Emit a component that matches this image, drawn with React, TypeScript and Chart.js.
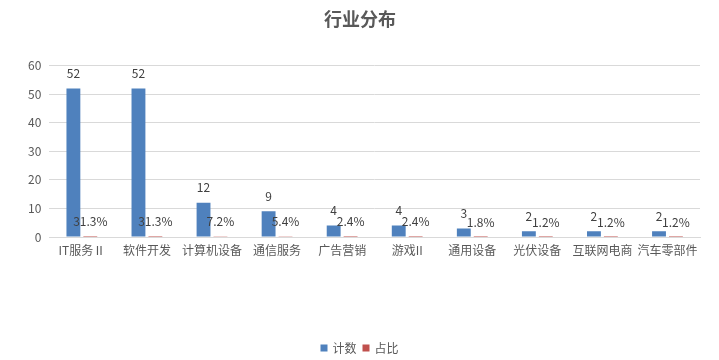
import React, { useEffect, useRef } from "react";
import { Chart, registerables } from "chart.js";

Chart.register(...registerables);

const categories = ["IT服务Ⅱ", "软件开发", "计算机设备", "通信服务", "广告营销", "游戏II", "通用设备", "光伏设备", "互联网电商", "汽车零部件"];
const counts = [52, 52, 12, 9, 4, 4, 3, 2, 2, 2];
const shares = [0.313, 0.313, 0.072, 0.054, 0.024, 0.024, 0.018, 0.012, 0.012, 0.012];
const yTicks = [0, 10, 20, 30, 40, 50, 60];

const FONT = '"Noto Sans CJK SC", "Noto Sans", sans-serif';

const labelPlugin = {
  id: "barLabels",
  afterDatasetsDraw(chart: any) {
    const ctx = chart.ctx;
    ctx.save();
    ctx.font = `12px ${FONT}`;
    ctx.fillStyle = "#404040";
    ctx.textAlign = "center";
    ctx.textBaseline = "middle";
    chart.data.datasets.forEach((ds: any, di: number) => {
      const meta = chart.getDatasetMeta(di);
      meta.data.forEach((bar: any, i: number) => {
        const v = ds.data[i];
        const txt = di === 0 ? String(v) : (v * 100).toFixed(1) + "%";
        ctx.fillText(txt, bar.x, bar.y - 15);
      });
    });
    ctx.restore();
  },
};

const legendPlugin = {
  id: "bottomLegend",
  afterDraw(chart: any) {
    const ctx = chart.ctx;
    ctx.save();
    ctx.font = `12px ${FONT}`;
    ctx.textBaseline = "middle";
    ctx.textAlign = "left";
    const y = 348;
    const box = 7;
    const gapBoxText = 5;
    const gapItems = 6;
    const items = chart.data.datasets.map((ds: any) => ({ label: ds.label, color: ds.backgroundColor, w: ctx.measureText(ds.label).width }));
    const total = items.reduce((s: number, it: any) => s + box + gapBoxText + it.w, 0) + gapItems * (items.length - 1);
    let x = (chart.width - total) / 2;
    items.forEach((it: any) => {
      ctx.fillStyle = it.color;
      ctx.fillRect(x, y - box / 2, box, box);
      x += box + gapBoxText;
      ctx.fillStyle = "#595959";
      ctx.fillText(it.label, x, y);
      x += it.w + gapItems;
    });
    ctx.restore();
  },
};

export default function App() {
  const ref = useRef<HTMLCanvasElement>(null);
  useEffect(() => {
    document.body.style.margin = "0";
    const chart = new Chart(ref.current!, {
      type: "bar",
      data: {
        labels: categories,
        datasets: [
          { label: "计数", data: counts, backgroundColor: "#4f81bd", categoryPercentage: 0.52, barPercentage: 0.82 },
          { label: "占比", data: shares, backgroundColor: "#c0504d", categoryPercentage: 0.52, barPercentage: 0.82 },
        ],
      },
      options: {
        animation: false,
        responsive: false,
        layout: { padding: { left: 20, right: 19, top: 0, bottom: 0 } },
        plugins: {
          title: {
            display: true,
            text: "行业分布",
            color: "#595959",
            font: { family: FONT, size: 18, weight: "bold" },
            padding: { top: 8, bottom: 36 },
          },
          legend: { display: false },
          tooltip: { enabled: false },
        },
        scales: {
          x: {
            grid: { display: false, drawTicks: false },
            border: { color: "#d9d9d9" },
            ticks: { color: "#595959", font: { family: FONT, size: 12 }, padding: 6, maxRotation: 0, autoSkip: false },
            afterFit: (scale: any) => {
              scale.height = 123;
            },
          },
          y: {
            min: 0,
            max: 60,
            afterBuildTicks: (scale: any) => {
              scale.ticks = yTicks.map((v) => ({ value: v }));
            },
            grid: { color: "#d9d9d9", drawTicks: false },
            border: { display: false },
            ticks: { color: "#595959", font: { family: FONT, size: 12 }, padding: 8 },
          },
        },
      },
      plugins: [labelPlugin, legendPlugin],
    });
    return () => chart.destroy();
  }, []);
  return <canvas ref={ref} width={719} height={360} style={{ display: "block" }} />;
}
